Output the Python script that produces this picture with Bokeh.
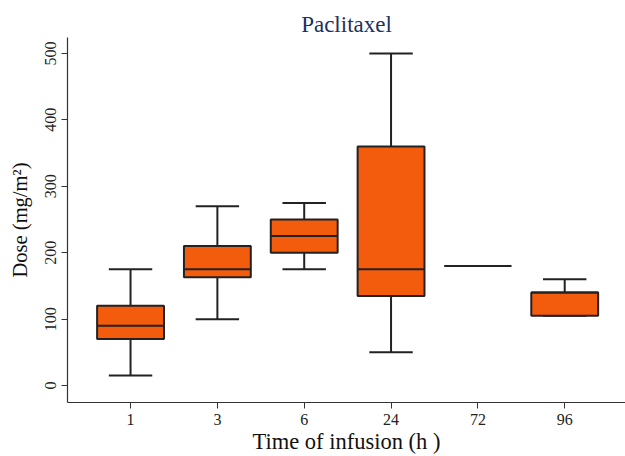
from bokeh.plotting import figure
from bokeh.models import ColumnDataSource, Range1d, FixedTicker, Title
from bokeh.embed import file_html
from bokeh.resources import INLINE

categories = ["1", "3", "6", "24", "72", "96"]
low = [15, 100, 175, 50, 180, 105]
q1 = [70, 163, 200, 135, 180, 105]
median = [90, 175, 225, 175, 180, 140]
q3 = [120, 210, 250, 360, 180, 140]
high = [175, 270, 275, 500, 180, 160]
y_ticks = [0, 100, 200, 300, 400, 500]

FONT = "Liberation Serif"
ORANGE = "#F35B0D"
LINE = "#222222"

xs = list(range(1, len(categories) + 1))
bw = 0.77
cw = 0.5
src = ColumnDataSource(dict(
    x=xs, low=low, q1=q1, med=median, q3=q3, high=high,
    bl=[x - bw / 2 for x in xs], br=[x + bw / 2 for x in xs],
    cl=[x - cw / 2 for x in xs], cr=[x + cw / 2 for x in xs],
))

p = figure(width=625, height=456, output_backend="svg", toolbar_location=None,
           x_range=Range1d(0.274, 6.70), y_range=Range1d(-25.5, 524),
           min_border_left=67, min_border_right=0, min_border_top=37, min_border_bottom=53)
p.outline_line_color = None
p.xgrid.visible = False
p.ygrid.visible = False
p.background_fill_color = "white"
p.border_fill_color = "white"

# whiskers
p.segment(x0="x", y0="q3", x1="x", y1="high", source=src, line_color=LINE, line_width=2)
p.segment(x0="x", y0="low", x1="x", y1="q1", source=src, line_color=LINE, line_width=2)
# caps
p.segment(x0="cl", y0="high", x1="cr", y1="high", source=src, line_color=LINE, line_width=2)
p.segment(x0="cl", y0="low", x1="cr", y1="low", source=src, line_color=LINE, line_width=2)
# boxes
p.vbar(x="x", width=bw, top="q3", bottom="q1", source=src, fill_color=ORANGE,
       line_color=LINE, line_width=2)
# medians
p.segment(x0="bl", y0="med", x1="br", y1="med", source=src, line_color=LINE, line_width=2)

t = Title(text="Paclitaxel", align="center", text_font=FONT, text_font_size="23px",
          text_font_style="normal", text_color="#23305E", standoff=2)
p.add_layout(t, "above")

p.xaxis.ticker = FixedTicker(ticks=xs)
p.xaxis.major_label_overrides = {x: c for x, c in zip(xs, categories)}
p.xaxis.axis_label = "Time of infusion (h )"
p.yaxis.ticker = FixedTicker(ticks=y_ticks)
p.yaxis.axis_label = "Dose (mg/m²)"
p.yaxis.major_label_orientation = "vertical"

for ax in (p.xaxis[0], p.yaxis[0]):
    ax.minor_tick_line_color = None
    ax.major_tick_out = 6
    ax.major_tick_in = 0
    ax.axis_line_color = "#333333"
    ax.major_tick_line_color = "#333333"
    ax.axis_line_width = 1.2
    ax.major_label_text_font = FONT
    ax.major_label_text_font_size = "16px"
    ax.major_label_text_color = "#222222"
    ax.axis_label_text_font = FONT
    ax.axis_label_text_font_style = "normal"
    ax.axis_label_text_color = "#111111"

p.xaxis.axis_label_text_font_size = "22.5px"
p.yaxis.axis_label_text_font_size = "20.5px"
p.xaxis.axis_label_standoff = 1
p.yaxis.axis_label_standoff = 12

open("out.html", "w").write(file_html(p, INLINE))
